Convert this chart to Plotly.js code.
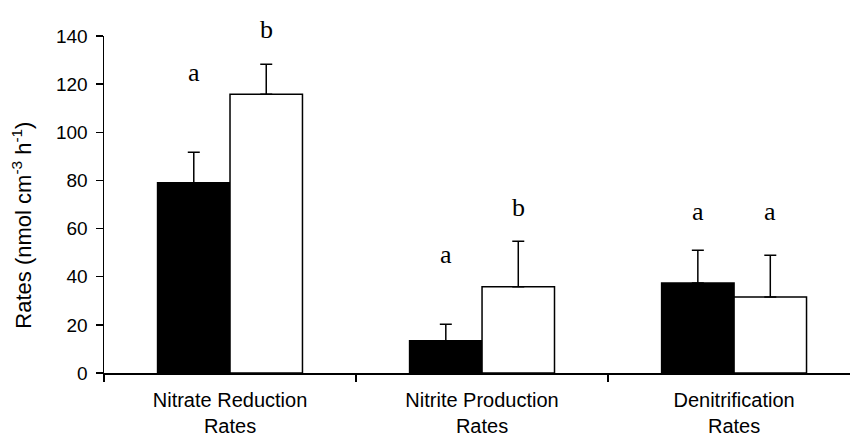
<!DOCTYPE html>
<html>
<head>
<meta charset="utf-8">
<script src="https://cdn.plot.ly/plotly-3.0.1.min.js"></script>
<style>html,body{margin:0;padding:0;background:#fff;}#chart{width:850px;height:437px;}</style>
</head>
<body>
<div id="chart"></div>
<script>
var categories = ["Nitrate Reduction<br>Rates", "Nitrite Production<br>Rates", "Denitrification<br>Rates"];
var seriesA = [79.0, 13.4, 37.4];
var errorA = [12.7, 6.9, 13.6];
var seriesB = [115.8, 35.8, 31.6];
var errorB = [12.5, 18.9, 17.3];
var lettersA = ["a", "a", "a"];
var lettersB = ["b", "b", "a"];
var letterYA = [124.7, 49.3, 67.1];
var letterYB = [142.9, 68.8, 67.1];
var yTicks = [0, 20, 40, 60, 80, 100, 120, 140];
var yMax = 140;

var zeros = [0, 0, 0];
var traceA = {
  type: 'bar', x: categories, y: seriesA, name: 'A',
  marker: {color: '#000', line: {color: '#000', width: 1.5}},
  error_y: {type: 'data', array: errorA, arrayminus: zeros, symmetric: false, color: '#000', thickness: 1.5, width: 6}
};
var traceB = {
  type: 'bar', x: categories, y: seriesB, name: 'B',
  marker: {color: '#fff', line: {color: '#000', width: 1.5}},
  error_y: {type: 'data', array: errorB, arrayminus: zeros, symmetric: false, color: '#000', thickness: 1.5, width: 6}
};

var letterFont = {family: 'Liberation Serif, Times New Roman, serif', size: 26, color: '#000'};
var annotations = [];
for (var i = 0; i < categories.length; i++) {
  annotations.push({xref: 'x', yref: 'paper', x: categories[i], y: letterYA[i] / yMax, text: lettersA[i], showarrow: false,
    xshift: -36, yanchor: 'middle', font: letterFont});
  annotations.push({xref: 'x', yref: 'paper', x: categories[i], y: letterYB[i] / yMax, text: lettersB[i], showarrow: false,
    xshift: 36, yanchor: 'middle', font: letterFont});
}
annotations.push({xref: 'paper', yref: 'paper', x: -0.11, y: 0.44, xanchor: 'center', yanchor: 'middle', textangle: -90,
  showarrow: false, text: 'Rates (nmol cm<sup>-3</sup> h<sup>-1</sup>)',
  font: {family: 'Liberation Sans, Arial, sans-serif', size: 22, color: '#000'}});

var layout = {
  width: 850, height: 437,
  margin: {l: 104, r: 0, t: 36, b: 64},
  paper_bgcolor: '#fff', plot_bgcolor: '#fff',
  showlegend: false,
  barmode: 'group', bargap: 0.425, bargroupgap: 0,
  font: {family: 'Liberation Sans, Arial, sans-serif', size: 18, color: '#000'},
  xaxis: {
    type: 'category', range: [-0.5, 2.46], tickson: 'boundaries',
    ticks: 'outside', ticklen: 7, tickwidth: 1.5, tickcolor: '#000',
    showline: true, linecolor: '#000', linewidth: 1.5, showgrid: false, zeroline: false,
    tickfont: {size: 20}, ticklabelstandoff: 8, fixedrange: true
  },
  yaxis: {
    range: [0, yMax], tickvals: yTicks, ticks: 'outside', ticklen: 7, tickwidth: 1.5, tickcolor: '#000',
    showline: true, linecolor: '#000', linewidth: 1.5, showgrid: false, zeroline: false,
    tickfont: {size: 19}, ticklabelstandoff: 4, fixedrange: true
  },
  annotations: annotations
};

Plotly.newPlot('chart', [traceA, traceB], layout, {displayModeBar: false, staticPlot: true});
</script>
</body>
</html>
